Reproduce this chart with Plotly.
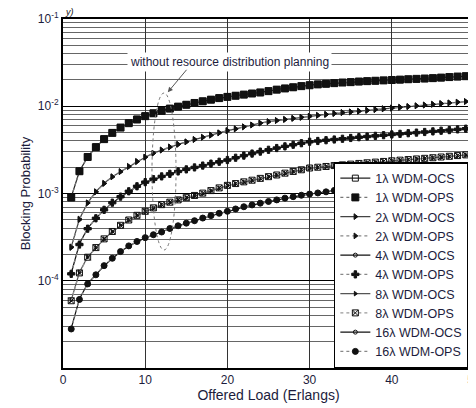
import plotly.graph_objects as go

load = list(range(1, 51))

ocs_1 = [9.1e-4, 1.8e-3, 2.63e-3, 3.4e-3, 4.2e-3, 5.0e-3, 5.7e-3, 6.4e-3, 7.1e-3, 7.7e-3,
         8.3e-3, 8.9e-3, 9.4e-3, 9.9e-3, 1.04e-2, 1.09e-2, 1.14e-2, 1.19e-2, 1.24e-2, 1.29e-2,
         1.32e-2, 1.36e-2, 1.40e-2, 1.43e-2, 1.49e-2, 1.55e-2, 1.60e-2, 1.65e-2, 1.70e-2, 1.75e-2,
         1.78e-2, 1.81e-2, 1.84e-2, 1.87e-2, 1.89e-2, 1.91e-2, 1.93e-2, 1.95e-2, 1.97e-2, 1.99e-2,
         2.01e-2, 2.03e-2, 2.05e-2, 2.07e-2, 2.09e-2, 2.12e-2, 2.15e-2, 2.18e-2, 2.21e-2, 2.23e-2]
ops_1 = [9.0e-4, 1.8e-3, 2.62e-3, 3.4e-3, 4.2e-3, 4.95e-3, 5.7e-3, 6.4e-3, 7.05e-3, 7.7e-3,
         8.3e-3, 8.85e-3, 9.4e-3, 9.9e-3, 1.04e-2, 1.09e-2, 1.14e-2, 1.19e-2, 1.24e-2, 1.28e-2,
         1.32e-2, 1.36e-2, 1.40e-2, 1.44e-2, 1.49e-2, 1.55e-2, 1.60e-2, 1.65e-2, 1.70e-2, 1.74e-2,
         1.78e-2, 1.81e-2, 1.84e-2, 1.87e-2, 1.89e-2, 1.92e-2, 1.94e-2, 1.96e-2, 1.98e-2, 2.00e-2,
         2.02e-2, 2.04e-2, 2.06e-2, 2.08e-2, 2.10e-2, 2.13e-2, 2.16e-2, 2.19e-2, 2.21e-2, 2.24e-2]

ocs_2 = [2.45e-4, 5.1e-4, 7.8e-4, 1.05e-3, 1.31e-3, 1.56e-3, 1.78e-3, 2.03e-3, 2.32e-3, 2.6e-3,
         2.9e-3, 3.15e-3, 3.4e-3, 3.65e-3, 3.9e-3, 4.15e-3, 4.4e-3, 4.65e-3, 4.95e-3, 5.25e-3,
         5.5e-3, 5.8e-3, 6.1e-3, 6.4e-3, 6.65e-3, 6.85e-3, 7.05e-3, 7.25e-3, 7.45e-3, 7.65e-3,
         7.85e-3, 8.05e-3, 8.25e-3, 8.45e-3, 8.6e-3, 8.75e-3, 8.95e-3, 9.15e-3, 9.35e-3, 9.5e-3,
         9.7e-3, 9.9e-3, 1.01e-2, 1.03e-2, 1.05e-2, 1.07e-2, 1.09e-2, 1.11e-2, 1.13e-2, 1.15e-2]
ops_2 = [2.4e-4, 5.0e-4, 7.8e-4, 1.04e-3, 1.3e-3, 1.55e-3, 1.78e-3, 2.05e-3, 2.33e-3, 2.62e-3,
         2.9e-3, 3.15e-3, 3.42e-3, 3.67e-3, 3.92e-3, 4.17e-3, 4.42e-3, 4.68e-3, 4.97e-3, 5.27e-3,
         5.52e-3, 5.82e-3, 6.1e-3, 6.42e-3, 6.67e-3, 6.88e-3, 7.08e-3, 7.28e-3, 7.48e-3, 7.68e-3,
         7.88e-3, 8.08e-3, 8.28e-3, 8.48e-3, 8.63e-3, 8.8e-3, 9.0e-3, 9.2e-3, 9.38e-3, 9.55e-3,
         9.75e-3, 9.95e-3, 1.015e-2, 1.035e-2, 1.055e-2, 1.075e-2, 1.095e-2, 1.115e-2, 1.135e-2, 1.16e-2]

ocs_4 = [1.22e-4, 2.65e-4, 4.0e-4, 5.2e-4, 6.5e-4, 7.8e-4, 9.1e-4, 1.05e-3, 1.2e-3, 1.34e-3,
         1.45e-3, 1.56e-3, 1.67e-3, 1.78e-3, 1.88e-3, 1.98e-3, 2.08e-3, 2.18e-3, 2.29e-3, 2.4e-3,
         2.55e-3, 2.7e-3, 2.85e-3, 3.0e-3, 3.15e-3, 3.3e-3, 3.45e-3, 3.6e-3, 3.75e-3, 3.9e-3,
         3.98e-3, 4.06e-3, 4.14e-3, 4.22e-3, 4.3e-3, 4.4e-3, 4.48e-3, 4.56e-3, 4.64e-3, 4.72e-3,
         4.8e-3, 4.88e-3, 4.96e-3, 5.04e-3, 5.12e-3, 5.2e-3, 5.3e-3, 5.4e-3, 5.5e-3, 5.6e-3]
ops_4 = [1.2e-4, 2.6e-4, 3.95e-4, 5.2e-4, 6.5e-4, 7.85e-4, 9.2e-4, 1.06e-3, 1.21e-3, 1.35e-3,
         1.46e-3, 1.57e-3, 1.68e-3, 1.79e-3, 1.89e-3, 1.99e-3, 2.09e-3, 2.2e-3, 2.31e-3, 2.42e-3,
         2.57e-3, 2.72e-3, 2.87e-3, 3.02e-3, 3.17e-3, 3.32e-3, 3.47e-3, 3.62e-3, 3.77e-3, 3.92e-3,
         4.0e-3, 4.08e-3, 4.16e-3, 4.24e-3, 4.33e-3, 4.42e-3, 4.5e-3, 4.58e-3, 4.66e-3, 4.75e-3,
         4.83e-3, 4.91e-3, 4.99e-3, 5.07e-3, 5.15e-3, 5.24e-3, 5.33e-3, 5.43e-3, 5.53e-3, 5.63e-3]

ocs_8 = [6.0e-5, 1.25e-4, 1.88e-4, 2.4e-4, 3.0e-4, 3.65e-4, 4.3e-4, 4.95e-4, 5.6e-4, 6.2e-4,
         6.8e-4, 7.4e-4, 7.9e-4, 8.4e-4, 8.9e-4, 9.4e-4, 1.0e-3, 1.07e-3, 1.15e-3, 1.23e-3,
         1.29e-3, 1.35e-3, 1.41e-3, 1.48e-3, 1.55e-3, 1.62e-3, 1.7e-3, 1.78e-3, 1.86e-3, 1.95e-3,
         1.99e-3, 2.03e-3, 2.08e-3, 2.12e-3, 2.16e-3, 2.2e-3, 2.24e-3, 2.28e-3, 2.32e-3, 2.36e-3,
         2.4e-3, 2.44e-3, 2.48e-3, 2.52e-3, 2.56e-3, 2.6e-3, 2.65e-3, 2.7e-3, 2.75e-3, 2.8e-3]
ops_8 = [5.9e-5, 1.23e-4, 1.86e-4, 2.4e-4, 3.02e-4, 3.67e-4, 4.32e-4, 4.97e-4, 5.62e-4, 6.25e-4,
         6.85e-4, 7.45e-4, 7.95e-4, 8.45e-4, 8.95e-4, 9.5e-4, 1.01e-3, 1.08e-3, 1.16e-3, 1.24e-3,
         1.3e-3, 1.36e-3, 1.42e-3, 1.49e-3, 1.56e-3, 1.63e-3, 1.71e-3, 1.79e-3, 1.87e-3, 1.96e-3,
         2.0e-3, 2.04e-3, 2.09e-3, 2.13e-3, 2.17e-3, 2.21e-3, 2.25e-3, 2.29e-3, 2.33e-3, 2.37e-3,
         2.41e-3, 2.45e-3, 2.49e-3, 2.53e-3, 2.57e-3, 2.62e-3, 2.67e-3, 2.72e-3, 2.77e-3, 2.82e-3]

ocs_16 = [2.85e-5, 6.2e-5, 9.3e-5, 1.17e-4, 1.48e-4, 1.8e-4, 2.15e-4, 2.5e-4, 2.8e-4, 3.1e-4,
          3.35e-4, 3.6e-4, 3.95e-4, 4.25e-4, 4.55e-4, 4.85e-4, 5.2e-4, 5.55e-4, 5.9e-4, 6.2e-4,
          6.6e-4, 7.0e-4, 7.35e-4, 7.7e-4, 8.05e-4, 8.4e-4, 8.8e-4, 9.15e-4, 9.5e-4, 9.8e-4,
          1.01e-3, 1.04e-3, 1.08e-3, 1.12e-3, 1.16e-3, 1.2e-3, 1.22e-3, 1.24e-3, 1.26e-3, 1.28e-3,
          1.3e-3, 1.32e-3, 1.34e-3, 1.36e-3, 1.38e-3, 1.41e-3, 1.44e-3, 1.47e-3, 1.5e-3, 1.53e-3]
ops_16 = [2.8e-5, 6.1e-5, 9.2e-5, 1.17e-4, 1.49e-4, 1.81e-4, 2.16e-4, 2.51e-4, 2.82e-4, 3.12e-4,
          3.37e-4, 3.62e-4, 3.97e-4, 4.27e-4, 4.57e-4, 4.88e-4, 5.23e-4, 5.58e-4, 5.93e-4, 6.25e-4,
          6.65e-4, 7.05e-4, 7.4e-4, 7.75e-4, 8.1e-4, 8.45e-4, 8.85e-4, 9.2e-4, 9.55e-4, 9.85e-4,
          1.015e-3, 1.045e-3, 1.085e-3, 1.125e-3, 1.165e-3, 1.205e-3, 1.225e-3, 1.245e-3, 1.265e-3, 1.285e-3,
          1.305e-3, 1.325e-3, 1.345e-3, 1.365e-3, 1.385e-3, 1.415e-3, 1.445e-3, 1.475e-3, 1.505e-3, 1.535e-3]

series_names = ["1λ WDM-OCS", "1λ WDM-OPS", "2λ WDM-OCS", "2λ WDM-OPS", "4λ WDM-OCS",
                "4λ WDM-OPS", "8λ WDM-OCS", "8λ WDM-OPS", "16λ WDM-OCS", "16λ WDM-OPS"]
series_values = [ocs_1, ops_1, ocs_2, ops_2, ocs_4, ops_4, ocs_8, ops_8, ocs_16, ops_16]

y_tick_vals = [1e-4, 1e-3, 1e-2, 1e-1]
y_tick_text = ["10<sup>-4</sup>", "10<sup>-3</sup>", "10<sup>-2</sup>", "10<sup>-1</sup>"]
x_tick_vals = [0, 10, 20, 30, 40, 50]

styles = [
    dict(symbol="square-open", size=6, dash="solid", lc="#222"),
    dict(symbol="square", size=7, dash="dot", lc="#777"),
    dict(symbol="triangle-right", size=5, dash="solid", lc="#444"),
    dict(symbol="triangle-right", size=5, dash="dot", lc="#888"),
    dict(symbol="circle-open", size=4, dash="solid", lc="#111"),
    dict(symbol="cross", size=6, dash="dot", lc="#888"),
    dict(symbol="triangle-right", size=4, dash="solid", lc="#555"),
    dict(symbol="square-x-open", size=6, dash="dot", lc="#999"),
    dict(symbol="circle-open", size=4, dash="solid", lc="#111"),
    dict(symbol="circle", size=6, dash="dot", lc="#888"),
]

fig = go.Figure()
for name, vals, st in zip(series_names, series_values, styles):
    fig.add_trace(go.Scatter(
        x=load, y=vals, name=name, mode="lines+markers",
        line=dict(color=st["lc"], width=1.2, dash=st["dash"]),
        marker=dict(symbol=st["symbol"], size=st["size"], color="#111",
                    line=dict(color="#111", width=1)),
    ))

minor_vals = [m * 10.0 ** e for e in range(-5, -1) for m in range(2, 10)]

font_main = "Liberation Sans, Arial, sans-serif"
txt_col = "#1c1c3c"

# the page body adds an 8 px offset, so the figure is sized to fit the window
fig.update_layout(
    width=468, height=400,
    margin=dict(l=55, r=2, t=11, b=40, autoexpand=False),
    paper_bgcolor="white", plot_bgcolor="white",
    font=dict(family=font_main, size=12, color=txt_col),
    showlegend=True,
    legend=dict(x=0.659, xanchor="left", y=0.0, yanchor="bottom",
                bgcolor="white", bordercolor="#000", borderwidth=1.5,
                font=dict(size=12.5, color=txt_col), tracegroupgap=0,
                itemwidth=30),
    xaxis=dict(range=[0, 50], tickvals=x_tick_vals, showgrid=True, automargin=False,
               gridcolor="#333", gridwidth=1.2, zeroline=False,
               showline=True, mirror=True, linecolor="#000", linewidth=2,
               ticks="", tickfont=dict(size=12, color=txt_col), ticklabeloverflow="allow",
               title=dict(text="Offered Load (Erlangs)", font=dict(size=14, color=txt_col), standoff=2)),
    yaxis=dict(type="log", range=[-5, -1], tickvals=y_tick_vals, ticktext=y_tick_text,
               automargin=False,
               showgrid=True, gridcolor="#000", gridwidth=1.4, zeroline=False,
               showline=True, mirror=True, linecolor="#000", linewidth=2,
               ticks="", tickfont=dict(size=12, color=txt_col),
               minor=dict(tickvals=minor_vals, showgrid=True, gridcolor="#666", gridwidth=1, ticks=""),
               title=dict(text="Blocking Probability", font=dict(size=13, color=txt_col), standoff=4)),
)

# dotted ellipse marking the curves
fig.add_shape(type="circle", xref="paper", yref="paper",
              x0=0.2165, x1=0.275, y0=0.338, y1=0.788,
              line=dict(color="#777", width=1, dash="dot"))

# label box with arrow
fig.add_annotation(xref="paper", yref="paper", x=0.406, y=0.906,
                   text="without resource distribution planning", showarrow=False,
                   font=dict(size=12, color=txt_col), bgcolor="white", borderpad=2)
fig.add_annotation(xref="paper", yref="paper", x=0.255, y=0.79, ax=20, ay=-24,
                   text="", showarrow=True, arrowhead=2, arrowsize=1, arrowwidth=1,
                   arrowcolor="#555")
fig.add_annotation(xref="paper", yref="paper", x=0.0, y=1.0, xanchor="left", yanchor="bottom",
                   text="<i>y)</i>", showarrow=False, font=dict(size=9, color="#111"))

fig.write_html("out.html")
